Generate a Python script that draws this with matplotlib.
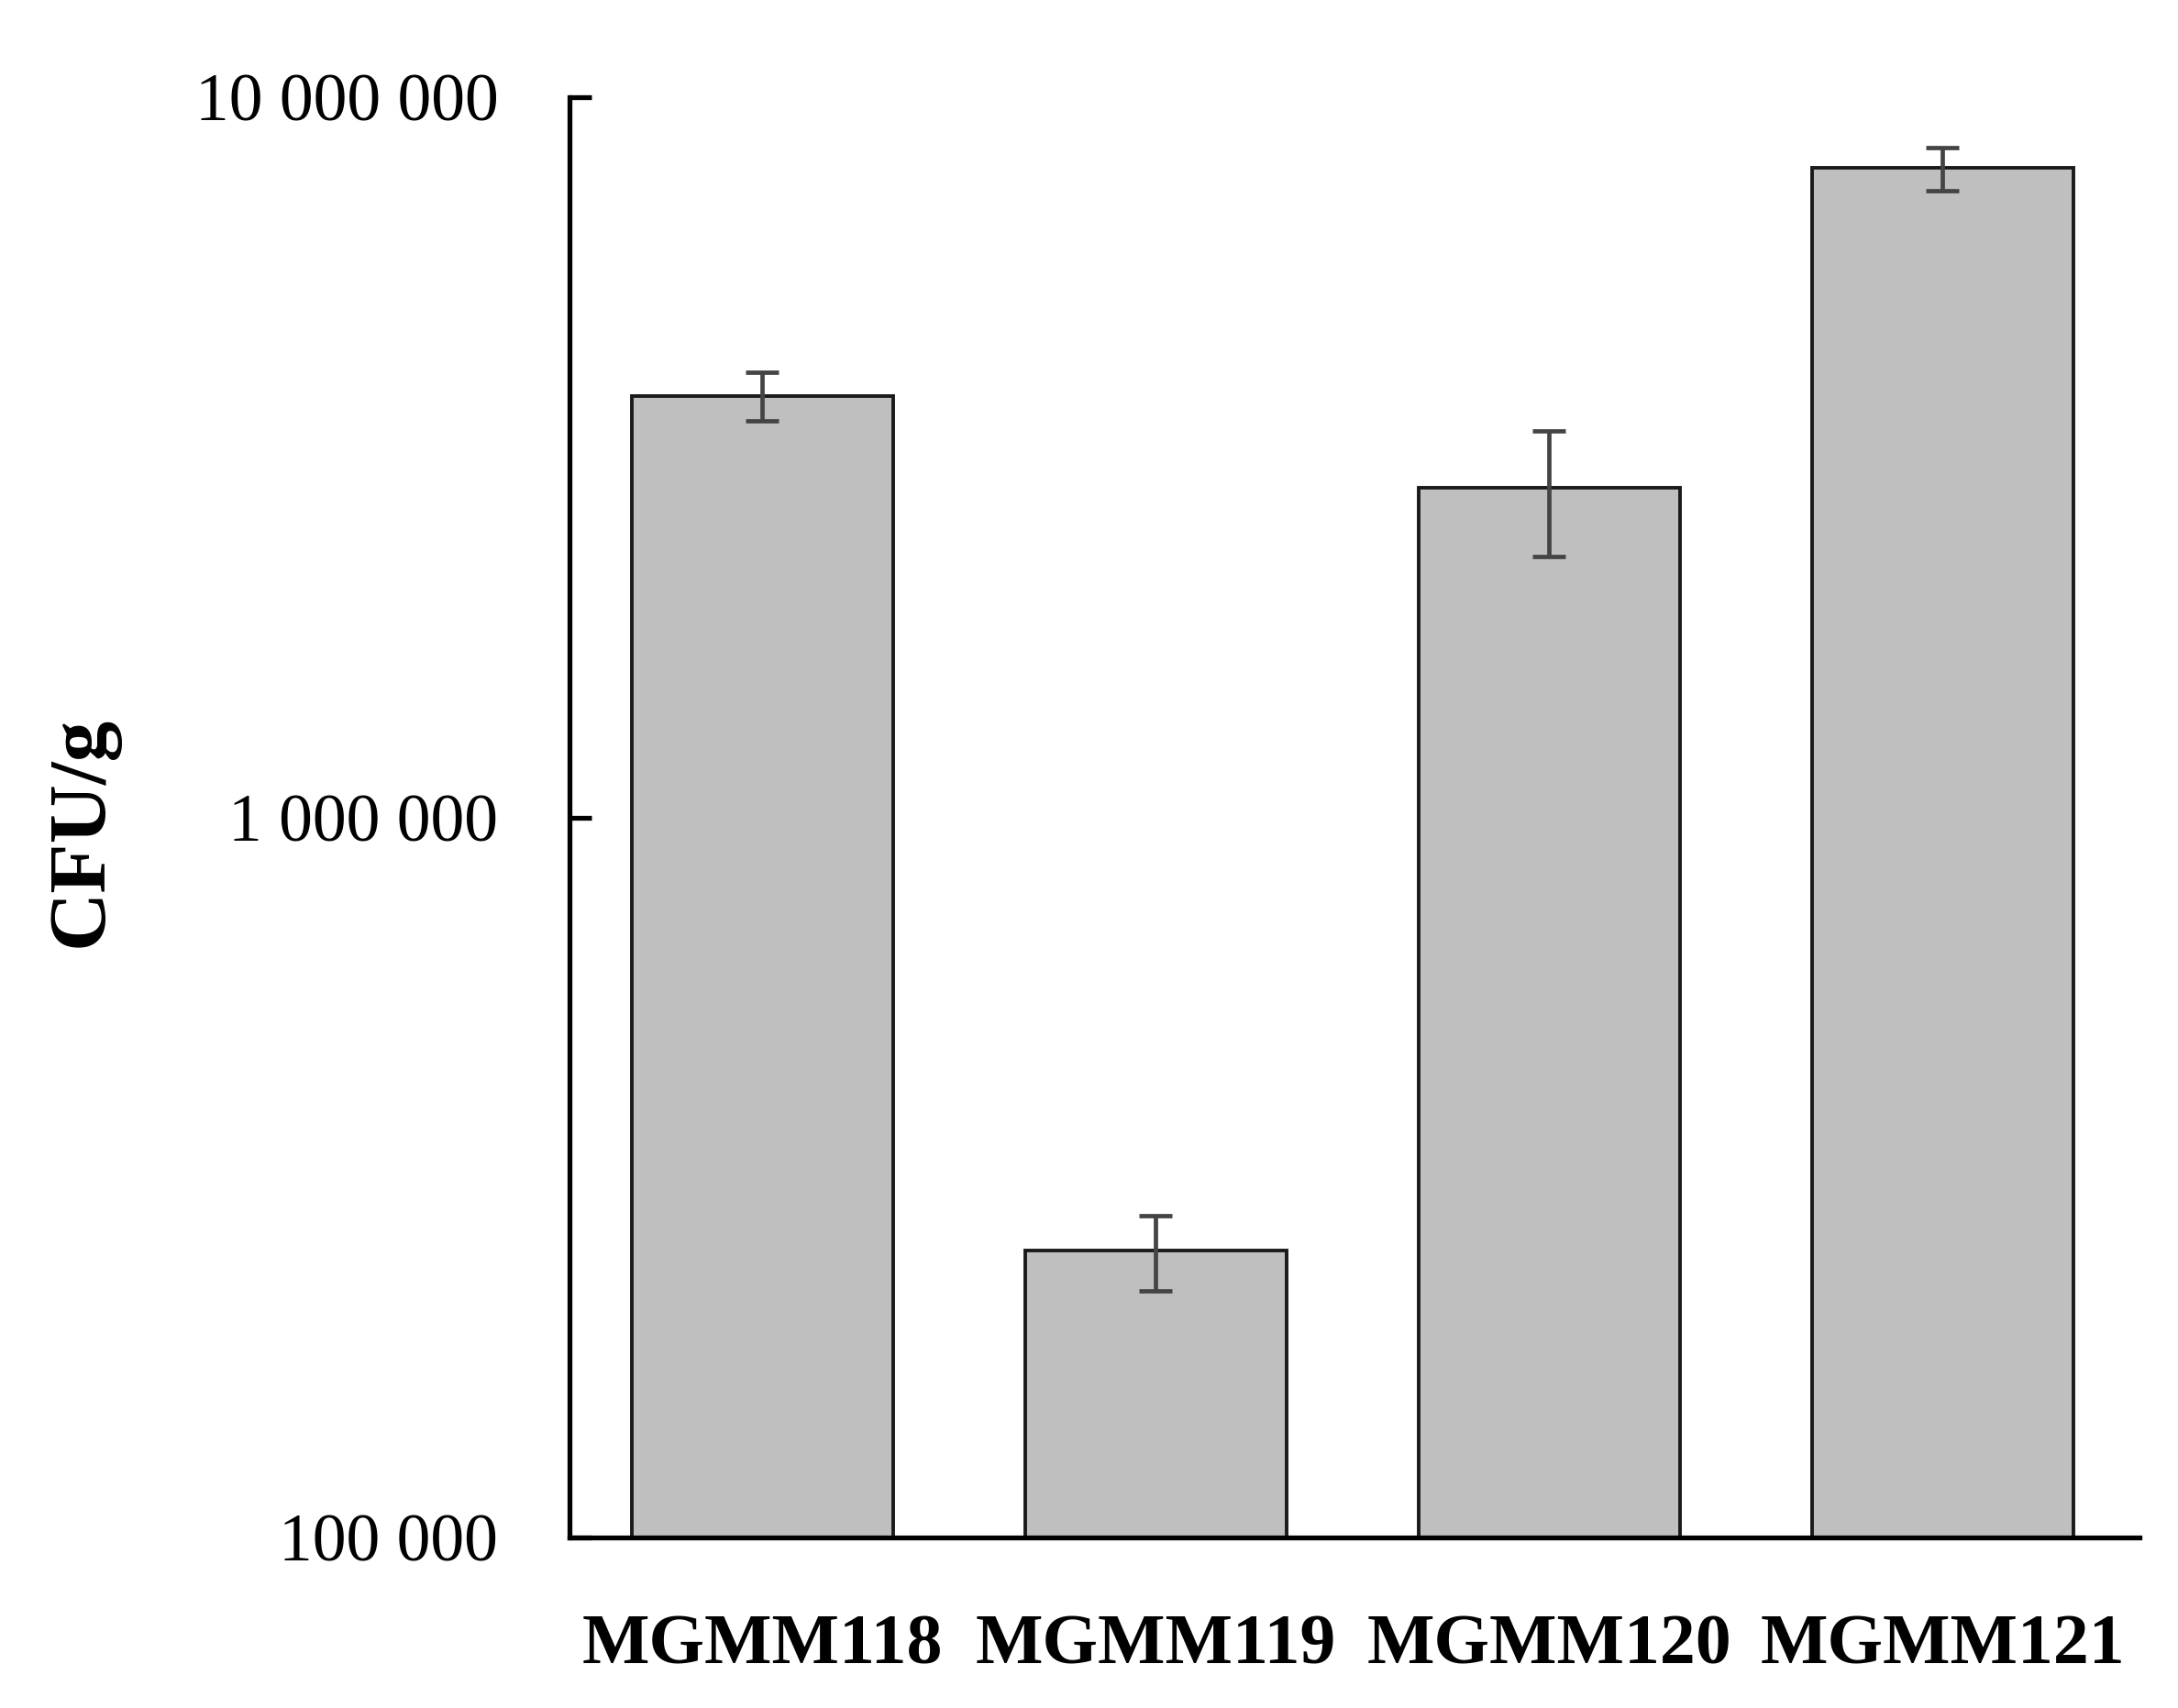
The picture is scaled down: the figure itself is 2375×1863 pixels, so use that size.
import matplotlib
matplotlib.use("Agg")
import matplotlib.pyplot as plt
from matplotlib.ticker import FixedLocator, FuncFormatter, NullLocator

categories = ["MGMM118", "MGMM119", "MGMM120", "MGMM121"]
values = [3.85e6, 2.5e5, 2.87e6, 7.97e6]
errors = [0.30e6, 0.30e5, 0.57e6, 0.55e6]
yticks = [1e5, 1e6, 1e7]

plt.rcParams['font.family'] = ['Liberation Serif', 'DejaVu Serif']

fig = plt.figure(figsize=(23.75, 18.63), dpi=100)
ax = fig.add_axes([0.2615, 0.0998, 0.9823 - 0.2615, 0.9431 - 0.0998])

x = list(range(len(categories)))
ax.bar(x, values, width=0.665, color="#bfbfbf", edgecolor="#1a1a1a", linewidth=2.8, zorder=2)
ax.errorbar(x, values, yerr=errors, fmt='none', ecolor="#444444", elinewidth=3.4,
            capsize=13, capthick=3.4, zorder=3)

ax.set_yscale('log')
ax.set_ylim(1e5, 1e7)
ax.set_xlim(-0.49, 3.5)
ax.yaxis.set_major_locator(FixedLocator(yticks))
ax.yaxis.set_minor_locator(NullLocator())
ax.yaxis.set_major_formatter(FuncFormatter(lambda v, p: f"{int(round(v)):,}".replace(",", " ")))

ax.set_xticks(x)
ax.set_xticklabels(categories, fontsize=56, fontweight='bold')
ax.tick_params(axis='x', length=0, pad=60)
ax.tick_params(axis='y', direction='in', length=17, width=3.8, labelsize=53, pad=56)

for s in ['top', 'right']:
    ax.spines[s].set_visible(False)
for s in ['left', 'bottom']:
    ax.spines[s].set_linewidth(3.8)
    ax.spines[s].set_color('black')
    ax.spines[s].set_capstyle('projecting')

ax.set_ylabel("CFU/g", fontsize=64, fontweight='bold')
ax.yaxis.set_label_coords(-0.287, 0.49)

fig.savefig("out.png", dpi=100, facecolor='white')
